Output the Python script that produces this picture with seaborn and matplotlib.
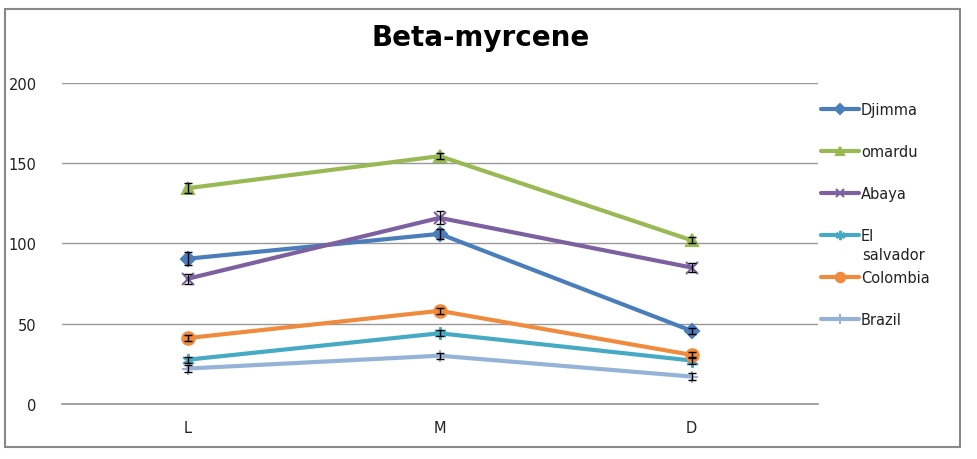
import matplotlib
matplotlib.use("Agg")
import matplotlib.pyplot as plt
import seaborn as sns
import pandas as pd
from matplotlib.patches import Rectangle

categories = ["L", "M", "D"]
series = ["Djimma", "omardu", "Abaya", "El salvador", "Colombia", "Brazil"]
djimma = [90.5, 106, 45.5]
omardu = [134.5, 154.5, 102]
abaya = [78, 116, 85]
el_salvador = [27.5, 44, 27]
colombia = [41, 58, 30.5]
brazil = [22, 30, 17]
djimma_err = [4, 3, 2]
omardu_err = [3, 2, 2]
abaya_err = [3, 4, 3]
el_salvador_err = [2, 2, 2]
colombia_err = [2, 2, 2]
brazil_err = [2, 2, 2]

values = [djimma, omardu, abaya, el_salvador, colombia, brazil]
errors = [djimma_err, omardu_err, abaya_err, el_salvador_err, colombia_err, brazil_err]
colors = ["#4A7EBB", "#98B954", "#7D60A0", "#46AAC5", "#F08A3C", "#95B3D7"]
markers = ["D", "^", "x", (6, 2, 0), "o", "+"]
msizes = [7, 8, 8, 9, 9, 9]

rows = []
for s, vals in zip(series, values):
    for c, v in zip(categories, vals):
        rows.append({"cat": c, "val": v, "series": s})
df = pd.DataFrame(rows)

sns.set_theme(style="white")
plt.rcParams["font.family"] = ["DejaVu Sans"]

fig = plt.figure(figsize=(9.78, 4.6), dpi=100)
ax = fig.add_axes([0.063, 0.12, 0.773, 0.697])

for i, s in enumerate(series):
    sub = df[df["series"] == s]
    # legend label: wrap the long name like the original (first word only in the box)
    lab = s.split(" ")[0] if " " in s else s
    sns.lineplot(data=sub, x="cat", y="val", color=colors[i], marker=markers[i],
                 markersize=msizes[i], markeredgecolor=colors[i], markeredgewidth=1.5,
                 linewidth=3, label=lab, ax=ax, sort=False)
    ax.errorbar(range(len(categories)), values[i], yerr=errors[i], fmt="none",
                ecolor="black", elinewidth=1, capsize=3, capthick=1, zorder=5)

ax.set_xlim(-0.5, 2.5)
ax.set_ylim(0, 200)
ax.set_yticks([0, 50, 100, 150, 200])
ax.yaxis.grid(True, color="#999999", linewidth=1)
ax.xaxis.grid(False)
for sp in ["top", "right", "left"]:
    ax.spines[sp].set_visible(False)
ax.spines["bottom"].set_color("#999999")
ax.set_xlabel("")
ax.set_ylabel("")
ax.tick_params(axis="y", labelsize=10.5, pad=12, left=False, labelcolor="#222222")
ax.tick_params(axis="x", labelsize=10.5, pad=6, bottom=False, labelcolor="#222222")

fig.text(481 / 978, 1 - 38 / 460, "Beta-myrcene", fontsize=20, fontweight="bold",
         ha="center", va="center", color="black")

leg = ax.legend(loc="upper left", bbox_to_anchor=(0.826, 0.805), bbox_transform=fig.transFigure,
                frameon=False, fontsize=10.5, labelspacing=1.85, handlelength=2.6,
                handletextpad=0.15, markerscale=0.75)
for t in leg.get_texts():
    t.set_color("#222222")

fig.canvas.draw()
W, H = fig.canvas.get_width_height()
bb = leg.get_texts()[3].get_window_extent()
fig.text(bb.x0 / W, (bb.y0 - 20) / H, "salvador", fontsize=10.5, color="#222222",
         ha="left", va="bottom")

fig.patches.append(Rectangle((5 / 978, 1 - 448 / 460), 955 / 978, 438 / 460,
                             transform=fig.transFigure, fill=False,
                             edgecolor="#888888", linewidth=1.5))

fig.savefig("out.png", dpi=100)
